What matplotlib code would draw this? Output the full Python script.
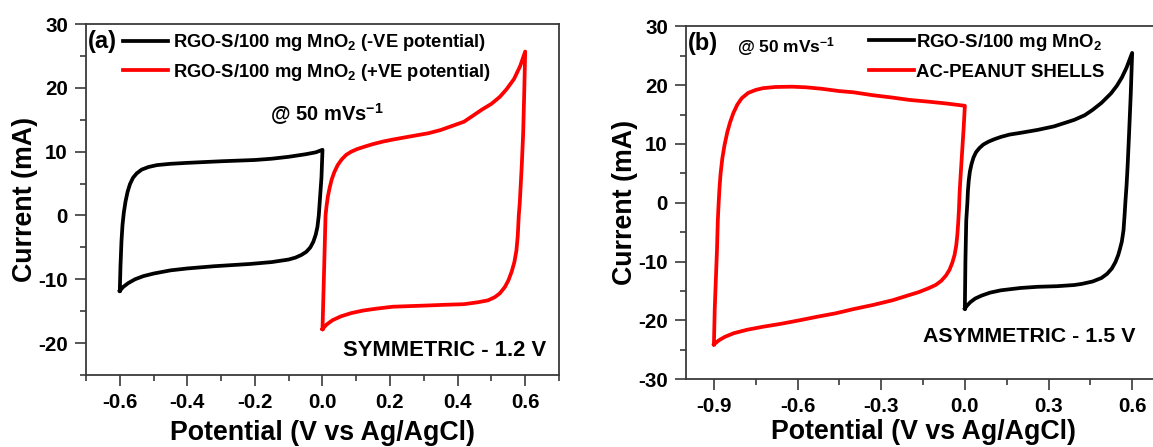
import matplotlib
matplotlib.use("Agg")
import matplotlib.pyplot as plt
from matplotlib.ticker import MultipleLocator
import numpy as np

plt.rcParams['font.family'] = ['Liberation Sans', 'DejaVu Sans']
plt.rcParams['font.weight'] = 'bold'
plt.rcParams['mathtext.fontset'] = 'custom'
plt.rcParams['mathtext.rm'] = 'Liberation Sans:bold'
plt.rcParams['mathtext.bf'] = 'Liberation Sans:bold'
plt.rcParams['mathtext.default'] = 'bf'

# ---------------- Panel (a) data ----------------
# RGO-S/100 mg MnO2, negative window (black)
a_neg_V_up = [-0.600, -0.598, -0.595, -0.592, -0.588, -0.583, -0.577, -0.570, -0.561,
              -0.550, -0.535, -0.515, -0.490, -0.450, -0.400, -0.300, -0.200, -0.150,
              -0.100, -0.050, -0.020, 0.000]
a_neg_I_up = [-11.8, -8.0, -4.0, -1.5, 0.5, 2.2, 3.7, 4.9, 5.9,
              6.6, 7.2, 7.6, 7.9, 8.1, 8.25, 8.5, 8.7, 8.9,
              9.2, 9.6, 9.9, 10.3]
a_neg_V_dn = [0.000, -0.003, -0.007, -0.011, -0.015, -0.020, -0.027, -0.036, -0.048,
              -0.063, -0.080, -0.100, -0.150, -0.215, -0.320, -0.400, -0.450, -0.500,
              -0.530, -0.555, -0.575, -0.590, -0.600]
a_neg_I_dn = [10.3, 6.0, 3.0, 0.0, -1.8, -3.0, -4.1, -5.0, -5.7,
              -6.2, -6.6, -6.9, -7.3, -7.6, -7.95, -8.3, -8.6, -9.1,
              -9.5, -10.0, -10.6, -11.2, -11.8]

# RGO-S/100 mg MnO2, positive window (red)
a_pos_V_up = [0.000, 0.004, 0.007, 0.009, 0.012, 0.016, 0.021, 0.027, 0.035, 0.045,
              0.057, 0.070, 0.085, 0.102, 0.125, 0.150, 0.180, 0.208, 0.250, 0.314,
              0.350, 0.419, 0.472, 0.500, 0.525, 0.545, 0.567, 0.585, 0.600]
a_pos_I_up = [-17.8, -10.0, -4.0, 0.0, 1.5, 3.0, 4.3, 5.6, 6.8, 7.9,
              8.8, 9.5, 10.0, 10.4, 10.8, 11.2, 11.6, 11.9, 12.3, 12.9,
              13.4, 14.7, 16.6, 17.5, 18.6, 19.8, 21.4, 23.4, 25.7]
a_pos_V_dn = [0.600, 0.597, 0.594, 0.590, 0.587, 0.584, 0.581, 0.578, 0.574, 0.568,
              0.560, 0.550, 0.540, 0.525, 0.510, 0.490, 0.460, 0.419, 0.360, 0.314,
              0.260, 0.208, 0.160, 0.120, 0.085, 0.055, 0.030, 0.012, 0.000]
a_pos_I_dn = [25.7, 19.0, 12.9, 8.0, 5.0, 2.0, 0.0, -3.2, -5.5, -7.3,
              -8.8, -10.2, -11.2, -12.2, -12.8, -13.3, -13.6, -13.9, -14.0, -14.1,
              -14.2, -14.3, -14.6, -14.9, -15.3, -15.8, -16.4, -17.1, -17.8]

# ---------------- Panel (b) data ----------------
# AC-peanut shells (red)
b_ac_V_up = [-0.900, -0.897, -0.893, -0.889, -0.886, -0.883, -0.880, -0.876, -0.870,
             -0.862, -0.852, -0.842, -0.830, -0.816, -0.800, -0.777, -0.750, -0.724,
             -0.680, -0.620, -0.570, -0.514, -0.450, -0.400, -0.330, -0.260, -0.199,
             -0.130, -0.068, 0.000]
b_ac_I_up = [-24.1, -18.0, -13.0, -8.0, -3.0, 0.0, 2.5, 5.0, 7.5,
             9.8, 12.0, 13.7, 15.3, 16.7, 17.8, 18.7, 19.2, 19.5,
             19.7, 19.75, 19.65, 19.4, 19.0, 18.8, 18.3, 17.9, 17.5,
             17.2, 16.9, 16.5]
b_ac_V_dn = [0.000, -0.004, -0.008, -0.012, -0.016, -0.019, -0.021, -0.024, -0.027,
             -0.031, -0.037, -0.045, -0.055, -0.068, -0.085, -0.105, -0.133, -0.165,
             -0.199, -0.260, -0.330, -0.400, -0.462, -0.530, -0.593, -0.660, -0.724,
             -0.780, -0.829, -0.860, -0.882, -0.900]
b_ac_I_dn = [16.5, 13.0, 10.0, 7.0, 4.0, 1.5, -1.0, -3.5, -5.5,
             -7.3, -8.9, -10.2, -11.4, -12.4, -13.3, -14.0, -14.6, -15.2,
             -15.7, -16.6, -17.4, -18.1, -18.8, -19.4, -20.0, -20.6, -21.1,
             -21.6, -22.2, -22.8, -23.4, -24.1]

# RGO-S/100 mg MnO2 (black)
b_rgo_V_up = [0.000, 0.002, 0.005, 0.009, 0.011, 0.014, 0.018, 0.024, 0.031, 0.040,
              0.052, 0.066, 0.085, 0.105, 0.129, 0.160, 0.200, 0.261, 0.320, 0.392,
              0.430, 0.458, 0.490, 0.524, 0.545, 0.563, 0.580, 0.600]
b_rgo_I_up = [-18.0, -10.0, -3.0, 0.0, 2.0, 3.8, 5.3, 6.6, 7.7, 8.6,
              9.3, 9.9, 10.4, 10.8, 11.2, 11.6, 11.9, 12.4, 13.0, 14.1,
              14.9, 15.8, 17.0, 18.6, 19.9, 21.3, 23.0, 25.5]
b_rgo_V_dn = [0.600, 0.595, 0.589, 0.584, 0.580, 0.576, 0.573, 0.569, 0.563, 0.556,
              0.550, 0.540, 0.527, 0.510, 0.490, 0.458, 0.420, 0.392, 0.330, 0.261,
              0.200, 0.129, 0.090, 0.060, 0.037, 0.020, 0.008, 0.000]
b_rgo_I_dn = [25.5, 18.5, 11.8, 6.5, 3.0, 0.3, -2.0, -4.7, -6.6, -7.9,
              -8.9, -10.1, -11.2, -12.1, -12.8, -13.4, -13.8, -14.0, -14.2, -14.3,
              -14.5, -14.9, -15.3, -15.8, -16.3, -16.9, -17.5, -18.0]

# ---------------- Labels ----------------
legend_a = ['RGO-S/100 mg MnO$_2$ (-VE potential)', 'RGO-S/100 mg MnO$_2$ (+VE potential)']
legend_b = ['RGO-S/100 mg MnO$_2$', 'AC-PEANUT SHELLS']
xticks_a = [-0.6, -0.4, -0.2, 0.0, 0.2, 0.4, 0.6]
xticks_b = [-0.9, -0.6, -0.3, 0.0, 0.3, 0.6]
yticks_a = [-20, -10, 0, 10, 20, 30]
yticks_b = [-30, -20, -10, 0, 10, 20, 30]

RED = '#ff0000'
BLK = '#000000'
SPINE = '#3a3a3a'
LW = 2.7


def loop(vu, iu, vd, idn):
    return np.concatenate([vu, vd[1:]]), np.concatenate([iu, idn[1:]])


def style(ax, xt, yt, xminor, yminor, xpad):
    for s in ax.spines.values():
        s.set_color(SPINE)
        s.set_linewidth(1.3)
    ax.set_xticks(xt)
    ax.set_yticks(yt)
    ax.xaxis.set_minor_locator(MultipleLocator(xminor))
    ax.yaxis.set_minor_locator(MultipleLocator(yminor))
    ax.tick_params(which='major', direction='out', length=8, width=1.2, color=SPINE,
                   labelsize=14.8, pad=5, top=False, right=False)
    ax.tick_params(which='minor', direction='out', length=4, width=1.2, color=SPINE,
                   top=False, right=False)
    ax.set_xlabel('Potential (V vs Ag/AgCl)', fontsize=19.3, fontweight='bold', labelpad=xpad)
    ax.set_ylabel('Current (mA)', fontsize=19.3, fontweight='bold', labelpad=0)


fig = plt.figure(figsize=(11.53, 4.47), dpi=100)

# ---- (a) ----
axa = fig.add_axes([0.0746, 0.1611, 0.4102, 0.785])
v, i = loop(a_neg_V_up, a_neg_I_up, a_neg_V_dn, a_neg_I_dn)
la1, = axa.plot(v, i, color=BLK, lw=LW, solid_joinstyle='round')
v, i = loop(a_pos_V_up, a_pos_I_up, a_pos_V_dn, a_pos_I_dn)
la2, = axa.plot(v, i, color=RED, lw=LW, solid_joinstyle='round')
axa.set_xlim(-0.7, 0.7)
axa.set_ylim(-25, 30)
style(axa, xticks_a, yticks_a, 0.1, 5, 6)
axa.set_xticklabels([f'{t:.1f}' for t in xticks_a], fontweight='bold')
axa.set_yticklabels([str(t) for t in yticks_a], fontweight='bold')
axa.text(0.004, 0.951, '(a)', transform=axa.transAxes, fontsize=17, fontweight='bold',
         ha='left', va='center')
axa.legend([la1, la2], legend_a, loc='upper left', bbox_to_anchor=(0.078, 0.977),
           frameon=False, handlelength=2.45, handletextpad=0.27,
           labelspacing=0.46, borderpad=0, borderaxespad=0,
           prop={'weight': 'bold', 'size': 13.2})
axa.text(0.51, 0.744, '@ 50 mVs$^{-1}$', transform=axa.transAxes, fontsize=14.5,
         fontweight='bold', ha='center', va='center')
axa.text(0.972, 0.071, 'SYMMETRIC - 1.2 V', transform=axa.transAxes, fontsize=15.8,
         fontweight='bold', ha='right', va='center')

# ---- (b) ----
axb = fig.add_axes([0.595, 0.152, 0.4111, 0.7888])
v, i = loop(b_ac_V_up, b_ac_I_up, b_ac_V_dn, b_ac_I_dn)
lb2, = axb.plot(v, i, color=RED, lw=LW, solid_joinstyle='round')
v, i = loop(b_rgo_V_up, b_rgo_I_up, b_rgo_V_dn, b_rgo_I_dn)
lb1, = axb.plot(v, i, color=BLK, lw=LW, solid_joinstyle='round')
axb.set_xlim(-1.0, 0.7)
axb.set_ylim(-30, 30)
style(axb, xticks_b, yticks_b, 0.15, 5, 2)
axb.set_xticklabels([f'{t:.1f}' for t in xticks_b], fontweight='bold')
axb.set_yticklabels([str(t) for t in yticks_b], fontweight='bold')
axb.text(0.004, 0.953, '(b)', transform=axb.transAxes, fontsize=17, fontweight='bold',
         ha='left', va='center')
axb.text(0.108, 0.943, '@ 50 mVs$^{-1}$', transform=axb.transAxes, fontsize=12.5,
         fontweight='bold', ha='left', va='center')
axb.legend([lb1, lb2], legend_b, loc='upper left', bbox_to_anchor=(0.386, 0.985),
           frameon=False, handlelength=2.4, handletextpad=0.12,
           labelspacing=0.6, borderpad=0, borderaxespad=0,
           prop={'weight': 'bold', 'size': 13.4})
axb.text(0.9485, 0.12, 'ASYMMETRIC - 1.5 V', transform=axb.transAxes, fontsize=15.4,
         fontweight='bold', ha='right', va='center')

fig.savefig('out.png', dpi=100)
